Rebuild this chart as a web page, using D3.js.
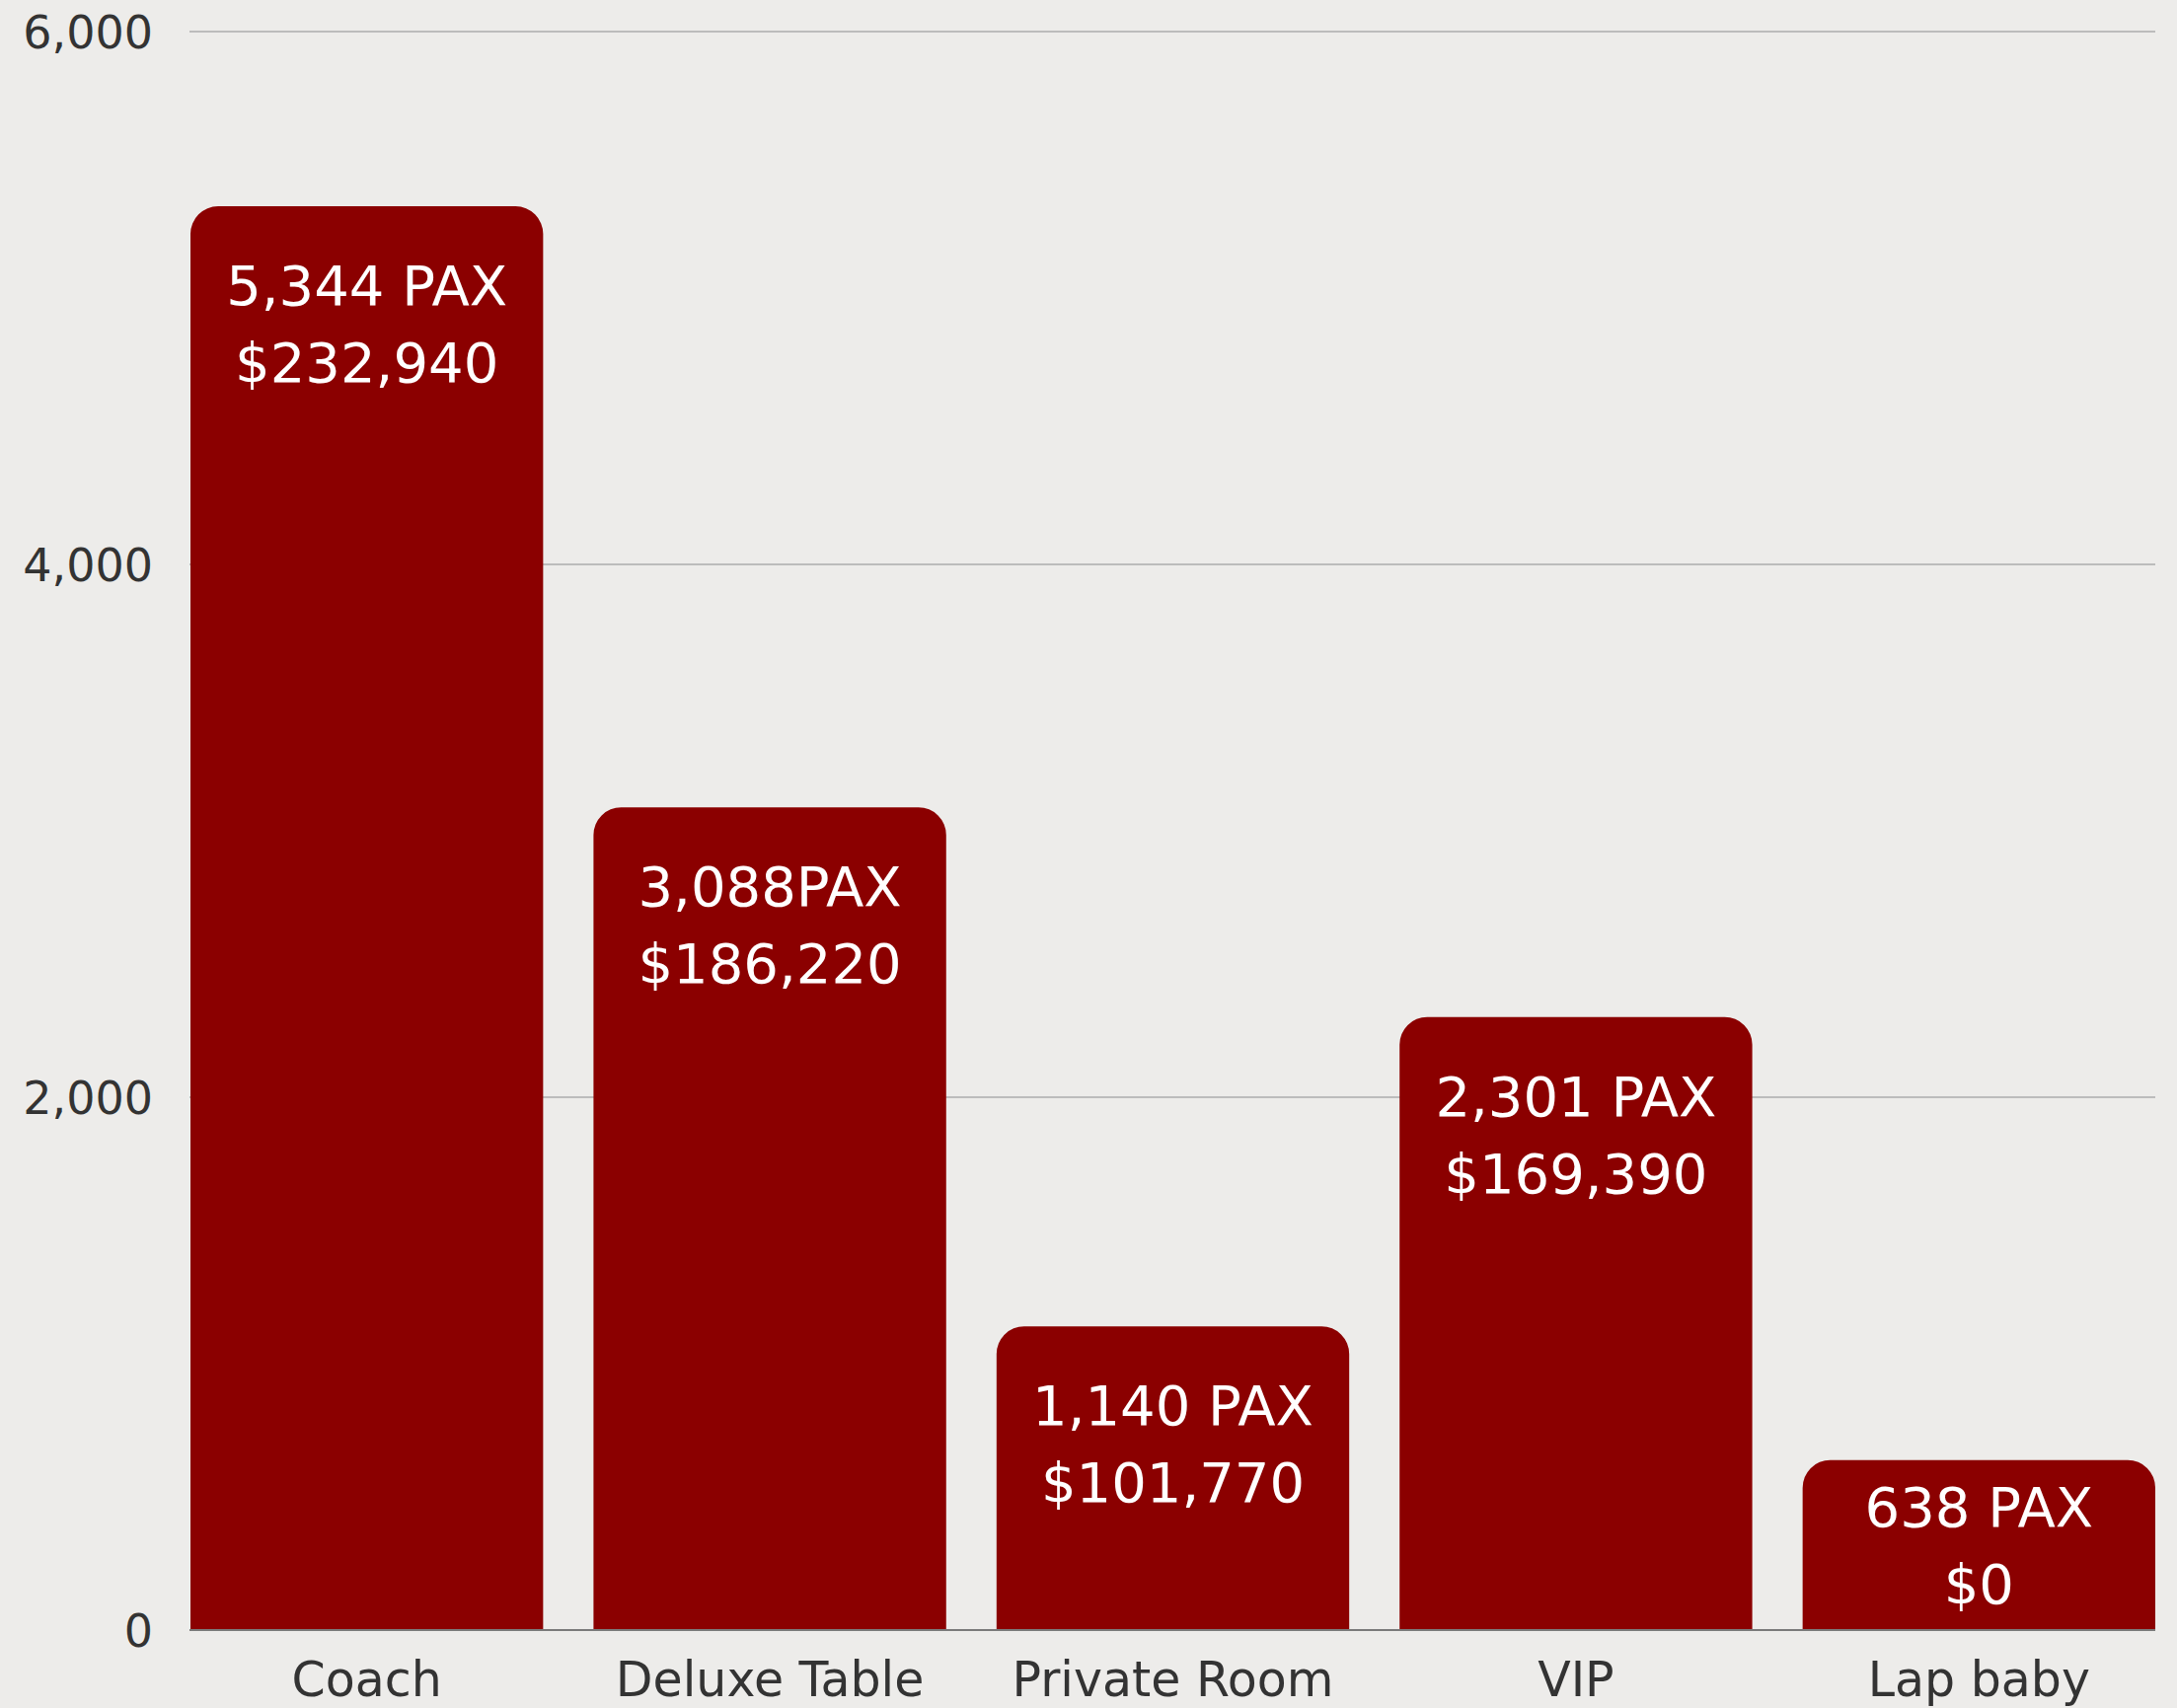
<!DOCTYPE html>
<html>
<head>
<meta charset="utf-8">
<script src="https://cdn.jsdelivr.net/npm/d3@7"></script>
<style>
  html, body { margin: 0; padding: 0; background: #edecea; }
  svg { display: block; }
  .tick_lbl, .cat_lbl { font-family: "DejaVu Sans", sans-serif; fill: #333; }
  .bar_lbl { font-family: "DejaVu Sans", sans-serif; fill: #fff; }
</style>
</head>
<body>
<svg id="chart"></svg>
<script>
//---DATA
var categories = ['Coach', 'Deluxe Table', 'Private Room', 'VIP', 'Lap baby'];
var pax = [5344, 3088, 1140, 2301, 638];
var paxLabels = ['5,344 PAX', '3,088PAX', '1,140 PAX', '2,301 PAX', '638 PAX'];
var revenueLabels = ['$232,940', '$186,220', '$101,770', '$169,390', '$0'];
var yTicks = [0, 2000, 4000, 6000];

(function() {
  'use strict';

  //-----SIZES
  var W = 2206, H = 1731;
  var m = { left: 193, right: 22, top: 32, bottom: 79 };
  var r_corner = 28;
  var lbl_size = 56, tick_size = 46, cat_size = 49;
  var line_h = 78;

  var svg = d3.select('#chart').attr('width', W).attr('height', H);

  //----SCALES
  var x = d3.scaleBand()
    .domain(categories)
    .range([m.left, W - m.right])
    .paddingInner(0.125)
    .paddingOuter(0);

  var y = d3.scaleLinear()
    .domain([0, 6000])
    .range([H - m.bottom, m.top]);

  //---GRID
  svg.append('g')
    .selectAll('line')
    .data(yTicks.filter(function(d) { return d > 0; }))
    .enter()
    .append('line')
    .attr('x1', m.left - 1)
    .attr('x2', W - m.right)
    .attr('y1', function(d) { return y(d); })
    .attr('y2', function(d) { return y(d); })
    .style('stroke', '#bcbcbc')
    .style('stroke-width', 2);

  //---Y LABELS
  svg.append('g')
    .selectAll('text')
    .data(yTicks)
    .enter()
    .append('text')
    .attr('class', 'tick_lbl')
    .attr('x', 155)
    .attr('y', function(d) { return y(d); })
    .attr('dy', '0.36em')
    .attr('text-anchor', 'end')
    .style('font-size', tick_size + 'px')
    .text(d3.format(','));

  //---BARS (rounded top corners only)
  function barPath(i) {
    var x0 = x(categories[i]), x1 = x0 + x.bandwidth();
    var y0 = y(0), y1 = y(pax[i]);
    var p = d3.path();
    p.moveTo(x0, y0);
    p.lineTo(x0, y1 + r_corner);
    p.arcTo(x0, y1, x0 + r_corner, y1, r_corner);
    p.lineTo(x1 - r_corner, y1);
    p.arcTo(x1, y1, x1, y1 + r_corner, r_corner);
    p.lineTo(x1, y0);
    p.closePath();
    return p.toString();
  }

  var bar_g = svg.append('g')
    .selectAll('g')
    .data(categories)
    .enter()
    .append('g');

  bar_g.append('path')
    .attr('d', function(d, i) { return barPath(i); })
    .style('fill', '#8b0000');

  //---BAR LABELS
  function labelY(i) {
    var top = y(pax[i]);
    var h = y(0) - top;
    // short bars: center the two lines, otherwise keep near the top
    var centered = top + (h - line_h) / 2 + lbl_size * 0.36;
    return Math.min(top + 100, centered);
  }

  bar_g.append('text')
    .attr('class', 'bar_lbl')
    .attr('x', function(d) { return x(d) + x.bandwidth() / 2; })
    .attr('y', function(d, i) { return labelY(i); })
    .attr('text-anchor', 'middle')
    .style('font-size', lbl_size + 'px')
    .text(function(d, i) { return paxLabels[i]; });

  bar_g.append('text')
    .attr('class', 'bar_lbl')
    .attr('x', function(d) { return x(d) + x.bandwidth() / 2; })
    .attr('y', function(d, i) { return labelY(i) + line_h; })
    .attr('text-anchor', 'middle')
    .style('font-size', lbl_size + 'px')
    .text(function(d, i) { return revenueLabels[i]; });

  //---BASELINE
  svg.append('line')
    .attr('x1', m.left - 1)
    .attr('x2', W - m.right)
    .attr('y1', y(0))
    .attr('y2', y(0))
    .style('stroke', '#7a7a7a')
    .style('stroke-width', 2);

  //---CATEGORY LABELS
  svg.append('g')
    .selectAll('text')
    .data(categories)
    .enter()
    .append('text')
    .attr('class', 'cat_lbl')
    .attr('x', function(d) { return x(d) + x.bandwidth() / 2; })
    .attr('y', y(0) + 67)
    .attr('text-anchor', 'middle')
    .style('font-size', cat_size + 'px')
    .text(function(d) { return d; });

})();
</script>
</body>
</html>
